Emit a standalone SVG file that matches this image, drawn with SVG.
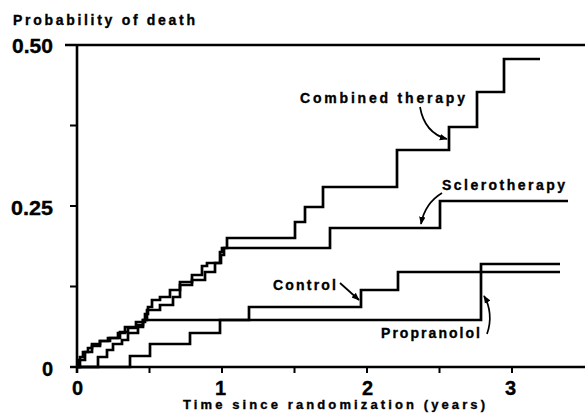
<svg xmlns="http://www.w3.org/2000/svg" width="585" height="420" viewBox="0 0 585 420">
<style>
text{font-family:"Liberation Sans",Arial,sans-serif;font-weight:bold;fill:#000;stroke:#000;stroke-width:0.35}
.ax{fill:none;stroke:#000;stroke-width:2.6}
.tk{fill:none;stroke:#000;stroke-width:2}
.cv{fill:none;stroke:#000;stroke-width:2.7;stroke-linejoin:miter}
.ar{fill:none;stroke:#000;stroke-width:1.7}
.lbl{font-size:14px}
.num{font-size:20px}
</style>
<defs>
<marker id="ah" viewBox="0 0 10 10" refX="9" refY="5" markerWidth="8" markerHeight="8" markerUnits="userSpaceOnUse" orient="auto">
<path d="M0,1 L10,5 L0,9 Z" fill="#000"/>
</marker>
</defs>
<rect width="585" height="420" fill="#fff"/>
<g id="axes">
<path class="ax" d="M65,45 H585 M77,45 V373 M70,367 H585"/>
<path class="tk" d="M70,286.5 H77 M70,206 H77 M70,125.5 H77 M149.5,367 V373 M222,367 V373 M294.5,367 V373 M367,367 V373 M439.5,367 V373 M512,367 V373"/>
<text x="13" y="25" font-size="14" textLength="182" lengthAdjust="spacing">Probability of death</text>
<text class="num" x="12" y="53" textLength="41" lengthAdjust="spacingAndGlyphs">0.50</text>
<text class="num" x="11" y="215" textLength="42" lengthAdjust="spacingAndGlyphs">0.25</text>
<text class="num" x="42" y="376">0</text>
<text class="num" x="72" y="395">0</text>
<text class="num" x="215" y="395">1</text>
<text class="num" x="362" y="395">2</text>
<text class="num" x="505" y="395">3</text>
<text x="183" y="409" font-size="13" textLength="302" lengthAdjust="spacing">Time since randomization (years)</text>
</g>
<g id="connectors">
<path id="combined" class="cv" d="M77,367 H79 V360 H85 V352 H92 V346 H100 V341 H108 V338 H118 V333 H125 V327 H136 V322 H145 V314 H148 V307 H152 V300 H160 V297 H170 V290 H180 V282 H192 V275 H202 V266 H207 V263 H220 V252 H222 V248 H227 V238 H295 V222 H305 V207 H323 V187 H397 V150 H449 V127 H477 V92 H504 V59 H540"/>
<path id="sclero" class="cv" d="M77,367 H98 V357 H107 V350 H113 V344 H122 V340 H128 V333 H138 V327 H143 V320 H147 V310 H160 V305 H173 V297 H180 V285 H192 V280 H205 V272 H215 V263 H221 V255 H224 V248 H330 V228 H440 V201 H568"/>
<path id="control" class="cv" d="M77,367 H80 V357 H83 V352 H88 V348 H92 V344 H100 V341 H110 V338 H120 V332 H128 V328 H137 V325 H143 V320 H249 V307 H361 V290 H398 V272 H560"/>
<path id="propranolol" class="cv" d="M77,367 H130 V356 H150 V344 H190 V333 H220 V320 H481 V264 H560"/>
<path class="ar" d="M420,107 C423,124 432,135 447,139" marker-end="url(#ah)"/>
<path class="ar" d="M442,193 C432,199 424,208 421,224" marker-end="url(#ah)"/>
<path class="ar" d="M340,283 L359,300" marker-end="url(#ah)"/>
<path class="ar" d="M487,334 C492,320 490,306 484,296" marker-end="url(#ah)"/>
</g>
<g id="label-combined"><text class="lbl" x="300" y="103" textLength="165" lengthAdjust="spacing">Combined therapy</text></g>
<g id="label-sclero"><text class="lbl" x="442" y="190" textLength="123" lengthAdjust="spacing">Sclerotherapy</text></g>
<g id="label-control"><text class="lbl" x="273" y="290" textLength="63" lengthAdjust="spacing">Control</text></g>
<g id="label-propranolol"><text class="lbl" x="381" y="338" textLength="99" lengthAdjust="spacing">Propranolol</text></g>
</svg>
